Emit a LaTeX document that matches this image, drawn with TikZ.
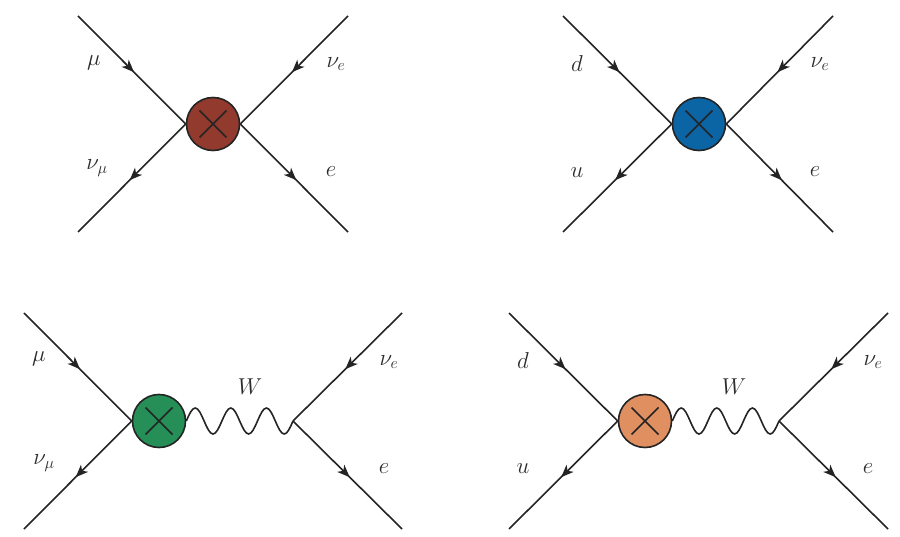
\RequirePackage{fix-cm}
\documentclass[tikz,border=0pt]{standalone}
\usetikzlibrary{arrows.meta,decorations.markings}
\definecolor{inkline}{HTML}{242424}
\definecolor{inktext}{HTML}{2C2C2C}
\definecolor{blobred}{HTML}{923A2D}
\definecolor{blobblue}{HTML}{0B65A5}
\definecolor{blobgreen}{HTML}{258F57}
\definecolor{bloborange}{HTML}{E09060}
\tikzset{
  leg/.style={draw=inkline,line width=1.6pt,
    postaction={decorate,decoration={markings,
      mark=at position .52 with {\arrow{Stealth[length=12.5pt,width=10pt,inset=3.5pt]}}}}},
  boson/.style={draw=inkline,line width=1.6pt},
  blob/.style={circle,draw=inkline,line width=1.6pt,fill=#1,minimum size=53pt,inner sep=0pt,
    path picture={
      \draw[inkline,line width=1.5pt]
        ([shift={(-13.5pt,-13.5pt)}]path picture bounding box.center) --
        ([shift={(13.5pt,13.5pt)}]path picture bounding box.center)
        ([shift={(-13.5pt,13.5pt)}]path picture bounding box.center) --
        ([shift={(13.5pt,-13.5pt)}]path picture bounding box.center);}},
  lbl/.style={text=inktext,inner sep=0pt,font=\fontsize{23}{27}\selectfont}
}
% Three-period wavy boson line from a blob's east anchor to a vertex
\newcommand{\wavyline}[2]{%
  \path[boson] (#1)
    sin ++(8.9,-13) cos ++(8.9,13) sin ++(8.9,13) cos ++(8.9,-13)
    sin ++(8.9,-13) cos ++(8.9,13) sin ++(8.9,13) cos ++(8.9,-13)
    sin ++(8.9,-13) cos ++(8.9,13) sin ++(8.9,13) cos (#2);}
\begin{document}
\begin{tikzpicture}[x=1pt,y=-1pt]
\useasboundingbox (0,0) rectangle (900,537);

% Four-fermion contact vertex, muon decay
\node[blob=blobred] (a) at (213,124) {};
\coordinate (a1) at (78,16);
\coordinate (a2) at (348,16);
\coordinate (a3) at (78,232);
\coordinate (a4) at (348,232);
\path[leg] (a1) -- (a.west);
\path[leg] (a2) -- (a.east);
\path[leg] (a.west) -- (a3);
\path[leg] (a.east) -- (a4);
\node[lbl] (amu) at (94,63) {$\mu$};
\node[lbl] (anue) at (336,64) {$\nu_e$};
\node[lbl] (anum) at (97,168) {$\nu_\mu$};
\node[lbl] (ae) at (331,172) {$e$};

% Four-fermion contact vertex, quark current
\node[blob=blobblue] (b) at (699,124) {};
\coordinate (b1) at (563,16);
\coordinate (b2) at (833,16);
\coordinate (b3) at (563,232);
\coordinate (b4) at (833,232);
\path[leg] (b1) -- (b.west);
\path[leg] (b2) -- (b.east);
\path[leg] (b.west) -- (b3);
\path[leg] (b.east) -- (b4);
\node[lbl] (bd) at (577,64) {$d$};
\node[lbl] (bnue) at (820,64) {$\nu_e$};
\node[lbl] (bu) at (577,173) {$u$};
\node[lbl] (be) at (815,172) {$e$};

% W exchange, muon decay
\node[blob=blobgreen] (c) at (159,421) {};
\coordinate (cv) at (293,421);
\coordinate (c1) at (24,313);
\coordinate (c2) at (402,313);
\coordinate (c3) at (24,529);
\coordinate (c4) at (402,529);
\path[leg] (c1) -- (c.west);
\path[leg] (c.west) -- (c3);
\path[leg] (c2) -- (cv);
\path[leg] (cv) -- (c4);
\wavyline{c.east}{cv}
\node[lbl] (cmu) at (39,359) {$\mu$};
\node[lbl] (cnum) at (44,463) {$\nu_\mu$};
\node[lbl] (cnue) at (389,362) {$\nu_e$};
\node[lbl] (ce) at (384,469) {$e$};
\node[lbl] (cw) at (250,387) {$W$};

% W exchange, quark current
\node[blob=bloborange] (d) at (645,421) {};
\coordinate (dv) at (779,421);
\coordinate (d1) at (509,313);
\coordinate (d2) at (888,313);
\coordinate (d3) at (509,529);
\coordinate (d4) at (888,529);
\path[leg] (d1) -- (d.west);
\path[leg] (d.west) -- (d3);
\path[leg] (d2) -- (dv);
\path[leg] (dv) -- (d4);
\wavyline{d.east}{dv}
\node[lbl] (dd) at (523,361) {$d$};
\node[lbl] (du) at (523,469) {$u$};
\node[lbl] (dnue) at (873,362) {$\nu_e$};
\node[lbl] (de) at (868,469) {$e$};
\node[lbl] (dw) at (734,387) {$W$};
\end{tikzpicture}
\end{document}
